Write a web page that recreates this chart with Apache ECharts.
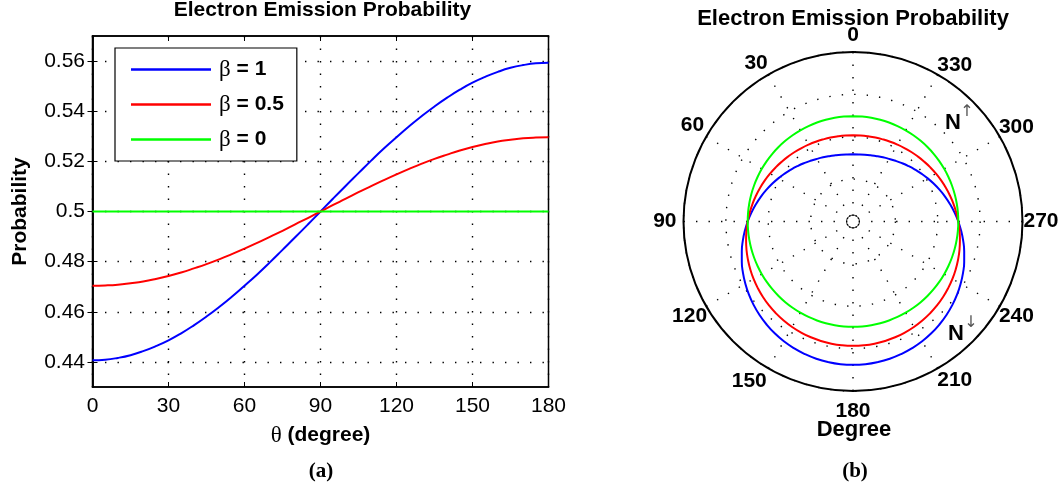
<!DOCTYPE html>
<html>
<head>
<meta charset="utf-8">
<script src="https://cdn.jsdelivr.net/npm/echarts@6/dist/echarts.min.js"></script>
<style>
  html, body { margin: 0; padding: 0; background: #fff; }
  #chart { width: 1061px; height: 492px; }
</style>
</head>
<body>
<div id="chart"></div>
<script>
// Emission angle (degrees) and probability for each anisotropy parameter beta
const thetaDeg = [0, 5, 10, 15, 20, 25, 30, 35, 40, 45, 50, 55, 60, 65, 70, 75, 80, 85, 90,
                  95, 100, 105, 110, 115, 120, 125, 130, 135, 140, 145, 150, 155, 160, 165, 170, 175, 180];
const probBeta1 = [0.4407, 0.4409, 0.4416, 0.4427, 0.4443, 0.4463, 0.4486, 0.4514, 0.4546, 0.4581,
                   0.4619, 0.4660, 0.4704, 0.4749, 0.4797, 0.4847, 0.4897, 0.4948, 0.5000,
                   0.5052, 0.5103, 0.5153, 0.5203, 0.5251, 0.5296, 0.5340, 0.5381, 0.5419,
                   0.5454, 0.5486, 0.5514, 0.5537, 0.5557, 0.5573, 0.5584, 0.5591, 0.5593];
const probBeta05 = [0.4704, 0.4705, 0.4708, 0.4714, 0.4721, 0.4731, 0.4743, 0.4757, 0.4773, 0.4790,
                    0.4809, 0.4830, 0.4852, 0.4875, 0.4899, 0.4923, 0.4949, 0.4974, 0.5000,
                    0.5026, 0.5051, 0.5077, 0.5101, 0.5125, 0.5148, 0.5170, 0.5191, 0.5210,
                    0.5227, 0.5243, 0.5257, 0.5269, 0.5279, 0.5286, 0.5292, 0.5295, 0.5296];
const probBeta0 = [0.5, 0.5, 0.5, 0.5, 0.5, 0.5, 0.5, 0.5, 0.5, 0.5,
                   0.5, 0.5, 0.5, 0.5, 0.5, 0.5, 0.5, 0.5, 0.5,
                   0.5, 0.5, 0.5, 0.5, 0.5, 0.5, 0.5, 0.5, 0.5,
                   0.5, 0.5, 0.5, 0.5, 0.5, 0.5, 0.5, 0.5, 0.5];
const seriesNames = ['β = 1', 'β = 0.5', 'β = 0'];
const seriesColors = ['#0000ff', '#ff0000', '#00ff00'];
const yTickValues = [0.44, 0.46, 0.48, 0.50, 0.52, 0.54, 0.56];
const xTickInterval = 30;
const polarRadiusRange = [0.336, 0.6];
const polarRingStep = 0.066;
const polarAngleStep = 30;

const seriesValues = [probBeta1, probBeta05, probBeta0];
const SANS = 'Liberation Sans, Arial, sans-serif';
const SERIF = 'Liberation Serif, Times New Roman, serif';
const dotted = [1.4, 11.1];

// full-circle trace: the distribution is symmetric about the 0-180 axis
function polarTrace(vals) {
  const front = thetaDeg.map((t, i) => [vals[i], t]);
  const back = thetaDeg.slice(0, -1).reverse().map(t => [vals[thetaDeg.indexOf(t)], 360 - t]);
  return front.concat(back);
}

// per-label padding so the angle labels sit evenly around the rim
const anglePad = {
  0: [0, 0, 7, 0], 30: [0, 1, 2, 0], 60: [0, 3, 2, 0], 90: [0, 8, 0, 0],
  120: [0, 0, 0, 0], 150: [3, 2, 0, 0], 180: [11, 0, 0, 0], 210: [2, 0, 0, 0],
  240: [0, 0, 0, 0], 270: [0, 0, 0, 2], 300: [0, 0, 0, 0], 330: [0, 0, 0, 0]
};
const angleRich = {};
Object.keys(anglePad).forEach(k => {
  angleRich['a' + k] = { fontFamily: SANS, fontWeight: 'bold', fontSize: 21, color: '#000', padding: anglePad[k] };
});

const chart = echarts.init(document.getElementById('chart'), null, { renderer: 'canvas' });

const cartSeries = seriesNames.map((name, i) => ({
  name: name,
  type: 'line',
  xAxisIndex: 0,
  yAxisIndex: 0,
  data: thetaDeg.map((t, j) => [t, seriesValues[i][j]]),
  showSymbol: false,
  smooth: true,
  lineStyle: { color: seriesColors[i], width: 2 },
  itemStyle: { color: seriesColors[i] },
  z: 3
}));

const polarSeries = seriesNames.map((name, i) => ({
  name: name,
  type: 'line',
  coordinateSystem: 'polar',
  polarIndex: 0,
  data: polarTrace(seriesValues[i]),
  showSymbol: false,
  smooth: true,
  lineStyle: { color: seriesColors[i], width: 2 },
  itemStyle: { color: seriesColors[i] },
  z: 3
}));

// small ring at the pole
const poleMarker = {
  type: 'scatter',
  coordinateSystem: 'polar',
  polarIndex: 0,
  data: [[polarRadiusRange[0], 0]],
  symbol: 'circle',
  symbolSize: 13,
  itemStyle: { color: 'rgba(0,0,0,0)', borderColor: '#000', borderWidth: 1 },
  silent: true,
  z: 2
};

const option = {
  backgroundColor: '#fff',
  animation: false,
  textStyle: { fontFamily: SANS },
  grid: [{
    left: 92.5, top: 36, width: 456, height: 351,
    show: true, borderColor: '#000', borderWidth: 1.5, backgroundColor: 'transparent',
    containLabel: false, outerBoundsMode: 'none'
  }],
  legend: {
    data: seriesNames,
    orient: 'vertical',
    left: 115, top: 48,
    padding: [10, 13, 10, 16],
    itemGap: 12,
    itemWidth: 80,
    itemHeight: 2.5,
    icon: 'rect',
    backgroundColor: '#fff',
    borderColor: '#000',
    borderWidth: 1.2,
    borderRadius: 0,
    selectedMode: false,
    formatter: name => '{g|β}{t|' + name.slice(1) + '}',
    textStyle: {
      fontSize: 21, lineHeight: 21, color: '#000',
      rich: {
        g: { fontFamily: SERIF, fontSize: 23, color: '#000', padding: [0, 0, 0, 3] },
        t: { fontFamily: SANS, fontSize: 21, fontWeight: 'bold', color: '#000' }
      }
    },
    z: 10
  },
  xAxis: [{
    type: 'value', gridIndex: 0, min: 0, max: 180, interval: xTickInterval, position: 'bottom',
    name: '{g|θ}{t| (degree)}', nameLocation: 'middle', nameGap: 37,
    nameTextStyle: {
      rich: {
        g: { fontFamily: SERIF, fontSize: 23, color: '#000' },
        t: { fontFamily: SANS, fontSize: 21, fontWeight: 'bold', color: '#000' }
      }
    },
    axisLine: { show: true, lineStyle: { color: '#000', width: 1.5 } },
    axisTick: { show: true, inside: true, length: 5, lineStyle: { color: '#000', width: 1 } },
    axisLabel: { fontFamily: SANS, fontSize: 21, color: '#000', margin: 9, showMinLabel: true, showMaxLabel: true, hideOverlap: false },
    splitLine: { show: true, lineStyle: { color: '#000', width: 1.4, type: dotted } }
  }, {
    type: 'value', gridIndex: 0, min: 0, max: 180, interval: xTickInterval, position: 'top',
    axisLine: { show: true, lineStyle: { color: '#000', width: 1.5 } },
    axisTick: { show: true, inside: true, length: 5, lineStyle: { color: '#000', width: 1 } },
    axisLabel: { show: false },
    splitLine: { show: false }
  }],
  yAxis: [{
    type: 'value', gridIndex: 0, min: 0.43, max: 0.57, position: 'left',
    name: 'Probability', nameLocation: 'middle', nameGap: 62,
    nameTextStyle: { fontFamily: SANS, fontSize: 21, fontWeight: 'bold', color: '#000' },
    axisLine: { show: true, lineStyle: { color: '#000', width: 1.5 } },
    axisTick: { show: true, inside: true, length: 5, customValues: yTickValues, lineStyle: { color: '#000', width: 1 } },
    axisLabel: {
      fontFamily: SANS, fontSize: 21, color: '#000', margin: 7.5, customValues: yTickValues,
      formatter: v => String(parseFloat(Number(v).toFixed(2)))
    },
    splitLine: { show: true, lineStyle: { color: '#000', width: 1.4, type: dotted } }
  }, {
    type: 'value', gridIndex: 0, min: 0.43, max: 0.57, position: 'right',
    axisLine: { show: true, lineStyle: { color: '#000', width: 1.5 } },
    axisTick: { show: true, inside: true, length: 5, customValues: yTickValues, lineStyle: { color: '#000', width: 1 } },
    axisLabel: { show: false, customValues: yTickValues },
    splitLine: { show: false }
  }],
  polar: [{ center: [853, 221.5], radius: [0, 169.5] }],
  angleAxis: {
    polarIndex: 0,
    type: 'value', min: 0, max: 360, interval: polarAngleStep,
    startAngle: 90, clockwise: false,
    axisLine: { show: true, lineStyle: { color: '#000', width: 2 } },
    axisTick: { show: false },
    axisLabel: {
      show: true, margin: -1,
      formatter: v => (v >= 360 ? '' : '{a' + v + '|' + v + '}'),
      rich: angleRich
    },
    splitLine: { show: true, lineStyle: { color: '#000', width: 1.4, type: dotted } }
  },
  radiusAxis: {
    polarIndex: 0,
    type: 'value', min: polarRadiusRange[0], max: polarRadiusRange[1], interval: polarRingStep,
    axisLine: { show: false },
    axisTick: { show: false },
    axisLabel: { show: false },
    splitLine: { show: true, lineStyle: { color: '#000', width: 1.4, type: dotted } }
  },
  graphic: [
    { type: 'text', x: 322.5, y: 10.5, z: 20,
      style: { text: 'Electron Emission Probability', font: 'bold 21px ' + SANS, fill: '#000',
               align: 'center', verticalAlign: 'middle', textAlign: 'center', textVerticalAlign: 'middle' } },
    { type: 'text', x: 853, y: 18.5, z: 20,
      style: { text: 'Electron Emission Probability', font: 'bold 22px ' + SANS, fill: '#000',
               align: 'center', verticalAlign: 'middle', textAlign: 'center', textVerticalAlign: 'middle' } },
    { type: 'text', x: 854, y: 430, z: 20,
      style: { text: 'Degree', font: 'bold 22px ' + SANS, fill: '#000',
               align: 'center', verticalAlign: 'middle', textAlign: 'center', textVerticalAlign: 'middle' } },
    { type: 'text', x: 953, y: 123, z: 20,
      style: { text: 'N', font: 'bold 22px ' + SANS, fill: '#000',
               align: 'center', verticalAlign: 'middle', textAlign: 'center', textVerticalAlign: 'middle' } },
    { type: 'text', x: 967, y: 112, z: 20,
      style: { text: '↑', font: '16px DejaVu Sans', fill: '#555',
               align: 'center', verticalAlign: 'middle', textAlign: 'center', textVerticalAlign: 'middle' } },
    { type: 'text', x: 956, y: 334, z: 20,
      style: { text: 'N', font: 'bold 22px ' + SANS, fill: '#000',
               align: 'center', verticalAlign: 'middle', textAlign: 'center', textVerticalAlign: 'middle' } },
    { type: 'text', x: 971, y: 323, z: 20,
      style: { text: '↓', font: '16px DejaVu Sans', fill: '#555',
               align: 'center', verticalAlign: 'middle', textAlign: 'center', textVerticalAlign: 'middle' } },
    { type: 'text', x: 321, y: 472, z: 20,
      style: { text: '(a)', font: 'bold 21px ' + SERIF, fill: '#000',
               align: 'center', verticalAlign: 'middle', textAlign: 'center', textVerticalAlign: 'middle' } },
    { type: 'text', x: 855, y: 472, z: 20,
      style: { text: '(b)', font: 'bold 21px ' + SERIF, fill: '#000',
               align: 'center', verticalAlign: 'middle', textAlign: 'center', textVerticalAlign: 'middle' } }
  ],
  series: cartSeries.concat(polarSeries, [poleMarker])
};

chart.setOption(option);
</script>
</body>
</html>
